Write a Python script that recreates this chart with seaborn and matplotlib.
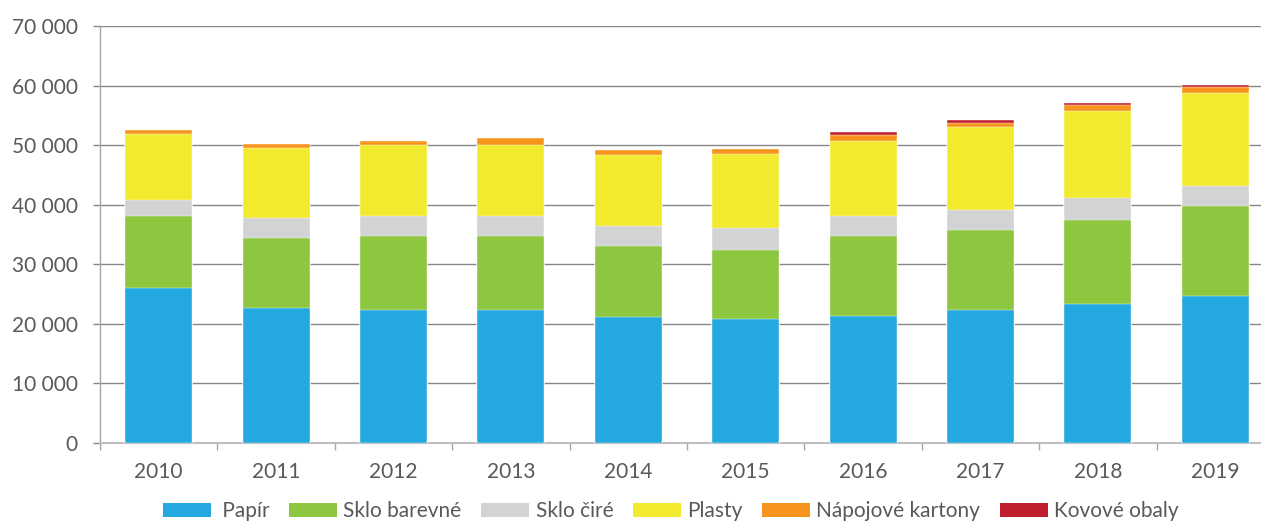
import numpy as np
import pandas as pd
import matplotlib
matplotlib.use("Agg")
import matplotlib.pyplot as plt
import seaborn as sns
from matplotlib.patches import Patch
from matplotlib.ticker import FuncFormatter, FixedLocator

years = ["2010", "2011", "2012", "2013", "2014", "2015", "2016", "2017", "2018", "2019"]
papir = [26100, 22700, 22400, 22400, 21100, 20750, 21400, 22400, 23400, 24700]
sklo_barevne = [12000, 11700, 12300, 12300, 12000, 11600, 13300, 13300, 14000, 15050]
sklo_cire = [2700, 3400, 3350, 3350, 3400, 3750, 3350, 3350, 3700, 3350]
plasty = [11150, 11650, 12000, 12000, 11900, 12350, 12700, 14000, 14650, 15650]
napojove = [650, 730, 680, 1070, 720, 950, 1000, 670, 1000, 950]
kovove = [0, 0, 0, 0, 0, 0, 380, 450, 400, 400]

labels = [" Papír", "Sklo barevné", "Sklo čiré", "Plasty", "Nápojové kartony", "Kovové obaly"]
colors = ["#23A8E0", "#8DC63F", "#D1D3D4", "#F2EA2E", "#F7941D", "#BE1E2D"]

sns.set_theme(style="white")
plt.rcParams["font.family"] = ["Lato", "DejaVu Sans"]
text_col = "#595959"

df = pd.DataFrame({"rok": years, "p": papir, "sb": sklo_barevne, "sc": sklo_cire,
                   "pl": plasty, "nk": napojove, "ko": kovove})
cols = ["p", "sb", "sc", "pl", "nk", "ko"]
cum = df[cols].cumsum(axis=1)

fig = plt.figure(figsize=(12.61, 5.23), dpi=100)
ax = fig.add_axes([100 / 1261, 1 - 443 / 523, 1174 / 1261, 417 / 523])

# overlay cumulative totals, tallest first
for c, col in reversed(list(zip(cols, colors))):
    sns.barplot(x=df["rok"], y=cum[c], color=col, saturation=1, width=0.57,
                edgecolor="white", linewidth=0.3, ax=ax, zorder=3)

ax.set_ylim(0, 70000)
ax.set_xlim(-0.5, 9.5)
ax.set_yticks(np.arange(0, 70001, 10000))
ax.yaxis.set_major_formatter(FuncFormatter(lambda v, p: f"{int(v):,}".replace(",", " ")))
ax.grid(axis="y", color="#878787", linewidth=1.0, zorder=0)
ax.grid(axis="x", visible=False)
ax.set_axisbelow(True)
ax.set_xlabel("")
ax.set_ylabel("")

for s in ["top", "right"]:
    ax.spines[s].set_visible(False)
ax.spines["left"].set_color("#A6A6A6")
ax.spines["left"].set_linewidth(1.0)
ax.spines["bottom"].set_color("#BFBFBF")
ax.spines["bottom"].set_linewidth(1.5)

ax.tick_params(axis="y", which="major", length=5, width=1, color="#878787",
               pad=11, labelsize=15, labelcolor=text_col, left=True)
ax.tick_params(axis="x", which="major", length=0, pad=14, labelsize=15,
               labelcolor=text_col)
ax.xaxis.set_minor_locator(FixedLocator(np.arange(-0.5, 10, 1)))
ax.tick_params(axis="x", which="minor", length=5, width=1, color="#A6A6A6",
               bottom=True, direction="out")

handles = [Patch(facecolor=c, edgecolor="none") for c in colors]
fig.legend(handles, labels, loc="center", bbox_to_anchor=(0.532, 0.022),
           ncol=6, frameon=False, fontsize=15, handlelength=2.3,
           handleheight=0.7, handletextpad=0.3, columnspacing=0.95,
           labelcolor=text_col)

fig.savefig("out.png", dpi=100)
